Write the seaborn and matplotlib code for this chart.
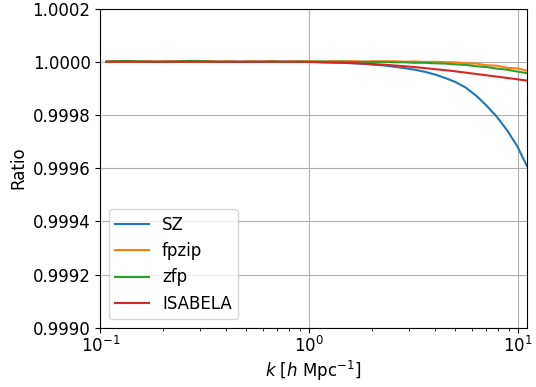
import numpy as np
import matplotlib
matplotlib.use('Agg')
import matplotlib.pyplot as plt
import seaborn as sns
from matplotlib.ticker import FormatStrFormatter

# wavenumber samples [h/Mpc]
k = [0.107, 0.12, 0.134, 0.15, 0.168, 0.188, 0.21, 0.236, 0.264, 0.296,
     0.33, 0.37, 0.415, 0.465, 0.52, 0.585, 0.655, 0.73, 0.82, 0.92,
     1.03, 1.15, 1.29, 1.45, 1.62, 1.82, 2.03, 2.28, 2.55, 2.86,
     3.2, 3.58, 4.0, 4.5, 5.0, 5.6, 6.3, 7.05, 7.9, 8.85, 9.9, 11.0]

# deviation of the power spectrum ratio from 1, in units of 1e-6
sz_dev = [0, 0, 0, 0, 0, 0, 0, 0, 0, 0,
          0, 0, 0, 0, 0, 0, 0, 0, 0, -1,
          -1, -2, -3, -4, -6, -8, -11, -14, -19, -24,
          -30, -38, -48, -62, -76, -97, -128, -165, -207, -258, -318, -392]
fpzip_dev = [0, 1, 0, -1, 1, 0, 1, 0, 1, -1,
             2, 0, 1, -1, 1, 0, 2, -1, 1, 0,
             2, 0, 2, 1, 2, 0, 2, 1, 2, 0,
             1, -1, 0, -2, -2, -6, -7, -13, -15, -23, -25, -33]
zfp_dev = [0, 2, 3, 1, 0, -1, 0, 1, 3, 3,
           1, -1, 0, -1, 0, -1, 1, 0, -1, 1,
           0, 1, 0, 1, -1, 0, -1, 0, -2, -2,
           -4, -4, -6, -7, -10, -12, -17, -20, -26, -30, -37, -43]
isabela_dev = [0, 0, 0, 0, 0, 0, 0, 0, 0, 0,
               0, 0, 0, 0, 0, 0, 0, 0, 0, 0,
               -1, -2, -3, -4, -5, -7, -9, -11, -14, -17,
               -20, -24, -28, -32, -36, -41, -46, -51, -56, -61, -66, -71]

series = {'SZ': sz_dev, 'fpzip': fpzip_dev, 'zfp': zfp_dev, 'ISABELA': isabela_dev}
colors = sns.color_palette('tab10', 4)

yticks = [0.9990, 0.9992, 0.9994, 0.9996, 0.9998, 1.0000, 1.0002]

fig, ax = plt.subplots(figsize=(5.36, 3.87), dpi=100)
fig.subplots_adjust(left=0.187, right=0.983, top=0.978, bottom=0.153)

for (name, dev), c in zip(series.items(), colors):
    ratio = 1 + np.array(dev) * 1e-6
    sns.lineplot(x=k, y=ratio, label=name, color=c, lw=1.5, ax=ax, estimator=None)

ax.set_xscale('log')
ax.set_xlim(0.1, 11.0)
ax.set_ylim(0.9990, 1.0002)
ax.set_yticks(yticks)
ax.yaxis.set_major_formatter(FormatStrFormatter('%.4f'))
ax.tick_params(labelsize=12)
ax.tick_params(axis='x', pad=2.5)
ax.grid(True, which='major', color='#b0b0b0', lw=0.8)
ax.set_xlabel(r'$k$ [$h$ Mpc$^{-1}$]', fontsize=12, labelpad=2)
ax.set_ylabel('Ratio', fontsize=12)
ax.legend(loc='lower left', fontsize=12)

plt.savefig('out.png', dpi=100)
